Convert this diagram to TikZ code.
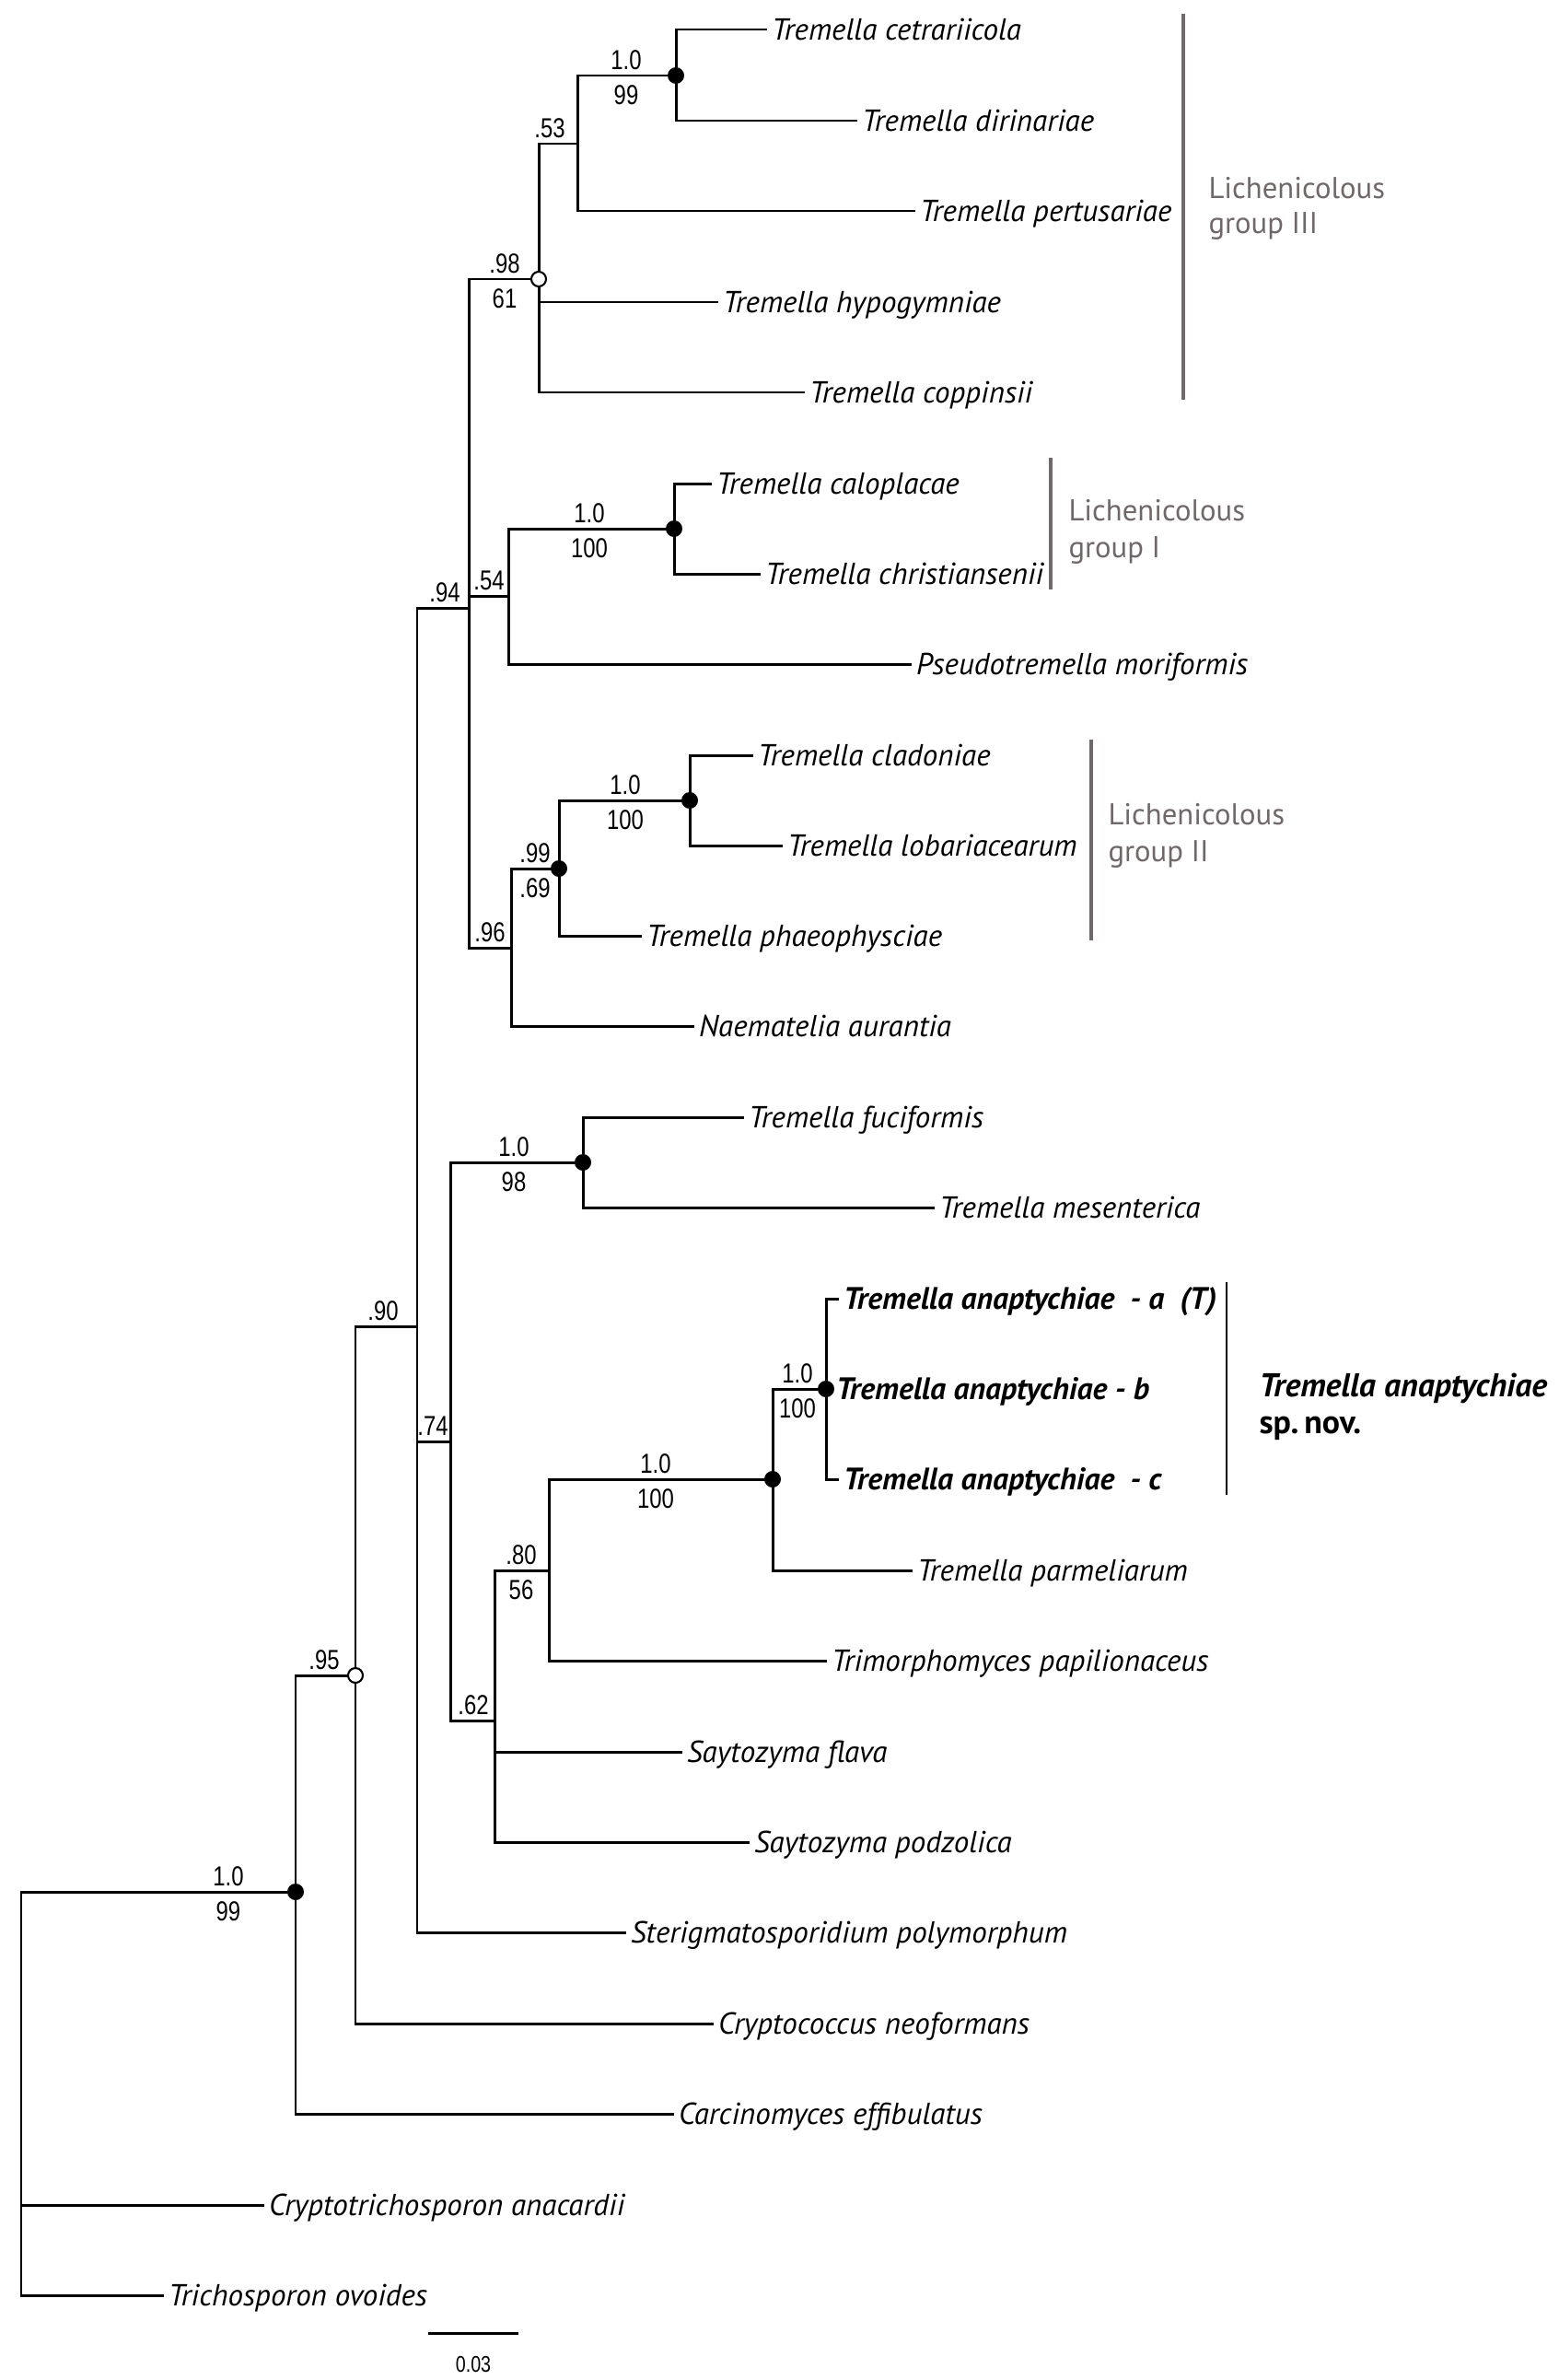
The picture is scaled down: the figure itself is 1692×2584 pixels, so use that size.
\documentclass[tikz,border=0pt]{standalone}
\usepackage{fontspec}
\setmainfont{PT Sans}
\newfontfamily\numfont[FakeStretch=0.8]{Liberation Sans}
\definecolor{groupgray}{RGB}{112,104,104}

\begin{document}
\begin{tikzpicture}[x=0.1mm, y=-0.1mm, line width=0.85pt,
  leaf/.style={anchor=west, inner sep=1pt, text height=6.6pt, text depth=0pt,
    font=\fontsize{9.4}{10}\selectfont\itshape},
  newsp/.style={leaf, font=\fontsize{9.6}{10}\selectfont\bfseries\itshape},
  supa/.style={anchor=south, inner sep=1.4pt, font=\fontsize{8.5}{9}\selectfont\numfont},
  supb/.style={anchor=north, inner sep=2.6pt, font=\fontsize{8.5}{9}\selectfont\numfont},
  grp/.style={anchor=west, align=left, inner sep=0pt, text=groupgray,
    font=\fontsize{9.3}{10.8}\selectfont}]
  \useasboundingbox (0,0) rectangle (1692,2584);
  % Internal nodes.
  \coordinate (nR) at (23,2300);
  \coordinate (nA) at (321,2054);
  \coordinate (nB) at (386,1819);
  \coordinate (nC) at (453,1440);
  \coordinate (nD) at (509,660);
  \coordinate (nF) at (585,303);
  \coordinate (nI) at (627,156);
  \coordinate (nJ) at (734,82);
  \coordinate (nG) at (552,647);
  \coordinate (nK) at (732,574);
  \coordinate (nH) at (555,1029);
  \coordinate (nL) at (607,943);
  \coordinate (nM) at (749,869);
  \coordinate (nE) at (489,1565);
  \coordinate (nN) at (633,1262);
  \coordinate (nO) at (537,1868);
  \coordinate (nP) at (596,1705);
  \coordinate (nQ) at (839,1606);
  \coordinate (nS) at (897,1508);
  % Tips.
  \node[leaf] (cetr) at (833,32) {Tremella cetrariicola};
  \node[leaf] (diri) at (931,131) {Tremella dirinariae};
  \node[leaf] (pert) at (994,229) {Tremella pertusariae};
  \node[leaf] (hypo) at (780,328) {Tremella hypogymniae};
  \node[leaf] (copp) at (874,426) {Tremella coppinsii};
  \node[leaf] (calo) at (773,525) {Tremella caloplacae};
  \node[leaf] (chri) at (826,623) {Tremella christiansenii};
  \node[leaf] (pseu) at (990,721) {Pseudotremella moriformis};
  \node[leaf] (clad) at (818,820) {Tremella cladoniae};
  \node[leaf] (loba) at (850,918) {Tremella lobariacearum};
  \node[leaf] (phae) at (697,1016) {Tremella phaeophysciae};
  \node[leaf] (naem) at (754,1114) {Naematelia aurantia};
  \node[leaf] (fuci) at (808,1213) {Tremella fuciformis};
  \node[leaf] (mese) at (1015,1311) {Tremella mesenterica};
  \node[newsp] (anaa) at (911,1410) {Tremella anaptychiae\ \ - a\ \ (T)};
  \node[newsp] (anab) at (903,1508) {Tremella anaptychiae - b};
  \node[newsp] (anac) at (911,1606) {Tremella anaptychiae\ \ - c};
  \node[leaf] (parm) at (991,1705) {Tremella parmeliarum};
  \node[leaf] (trim) at (898,1803) {Trimorphomyces papilionaceus};
  \node[leaf] (flav) at (741,1902) {Saytozyma flava};
  \node[leaf] (podz) at (814,2000) {Saytozyma podzolica};
  \node[leaf] (ster) at (680,2098) {Sterigmatosporidium polymorphum};
  \node[leaf] (cryp) at (775,2197) {Cryptococcus neoformans};
  \node[leaf] (carc) at (732,2295) {Carcinomyces effibulatus};
  \node[leaf] (ctri) at (287,2394) {Cryptotrichosporon anacardii};
  \node[leaf] (tric) at (178,2492) {Trichosporon ovoides};
  % Branches.
  \foreach \p/\c in {nR/nA, nA/nB, nB/nC, nC/nD, nC/nE, nD/nF, nD/nG, nD/nH,
      nF/nI, nI/nJ, nG/nK, nH/nL, nL/nM, nE/nN, nE/nO, nO/nP, nP/nQ, nQ/nS}
    \draw (\p) |- (\c);
  \foreach \p/\c in {nR/ctri, nR/tric, nA/carc, nB/cryp, nC/ster, nF/hypo, nF/copp,
      nI/pert, nJ/cetr, nJ/diri, nG/pseu, nK/calo, nK/chri, nH/naem, nL/phae,
      nM/clad, nM/loba, nN/fuci, nN/mese, nO/flav, nO/podz, nP/trim, nQ/parm,
      nS/anaa, nS/anab, nS/anac}
    \draw (\p) |- (\c.west);
  % Dots on supported nodes.
  \foreach \n in {nJ, nK, nM, nL, nN, nS, nQ, nA} { \fill (\n) circle (0.9mm); }
  \foreach \n in {nF, nB} { \filldraw[fill=white, line width=0.6pt] (\n) circle (0.8mm); }
  % Support values.
  \node[supa] (pJ) at (680,82) {1.0};
  \node[supb] (bJ) at (680,82) {99};
  \node[supa] (pI) at (597,156) {.53};
  \node[supa] (pF) at (548,303) {.98};
  \node[supb] (bF) at (548,303) {61};
  \node[supa] (pK) at (640,574) {1.0};
  \node[supb] (bK) at (640,574) {100};
  \node[supa] (pG) at (531,647) {.54};
  \node[supa] (pD) at (483,660) {.94};
  \node[supa] (pM) at (679,869) {1.0};
  \node[supb] (bM) at (679,869) {100};
  \node[supa] (pL) at (581,943) {.99};
  \node[supb] (bL) at (581,943) {.69};
  \node[supa] (pH) at (532,1029) {.96};
  \node[supa] (pN) at (558,1262) {1.0};
  \node[supb] (bN) at (558,1262) {98};
  \node[supa] (pS) at (866,1508) {1.0};
  \node[supb] (bS) at (866,1508) {100};
  \node[supa] (pQ) at (712,1606) {1.0};
  \node[supb] (bQ) at (712,1606) {100};
  \node[supa] (pP) at (566,1705) {.80};
  \node[supb] (bP) at (566,1705) {56};
  \node[supa] (pO) at (514,1868) {.62};
  \node[supa] (pE) at (470,1565) {.74};
  \node[supa] (pC) at (416,1440) {.90};
  \node[supa] (pB) at (352,1819) {.95};
  \node[supa] (pA) at (248,2054) {1.0};
  \node[supb] (bA) at (248,2054) {99};
  % Lichenicolous groups.
  \draw[groupgray, line width=0.9pt] (1285,15) -- (1285,434);
  \node[grp] (gIII) at (1311,226) {Lichenicolous\\group III};
  \draw[groupgray, line width=0.9pt] (1141,497) -- (1141,640);
  \node[grp, font=\fontsize{9.3}{11.4}\selectfont] (gI) at (1159,577) {Lichenicolous\\group I};
  \draw[groupgray, line width=0.9pt] (1185,803) -- (1185,1021);
  \node[grp, font=\fontsize{9.3}{11.4}\selectfont] (gII) at (1202,907) {Lichenicolous\\group II};
  % New species.
  \draw[line width=0.6pt] (1332,1392) -- (1332,1623);
  \node[anchor=west, align=left, inner sep=0pt, font=\fontsize{10.2}{11.4}\selectfont\bfseries]
    (spnov) at (1366,1527) {\itshape Tremella anaptychiae\\sp.\,nov.};
  % Scale bar.
  \coordinate (sb1) at (465,2533);
  \coordinate (sb2) at (563,2533);
  \draw (sb1) -- (sb2);
  \node[anchor=north, inner sep=0pt, font=\fontsize{7}{8}\selectfont\numfont] (sbl) at (514,2557) {0.03};
\end{tikzpicture}
\end{document}
